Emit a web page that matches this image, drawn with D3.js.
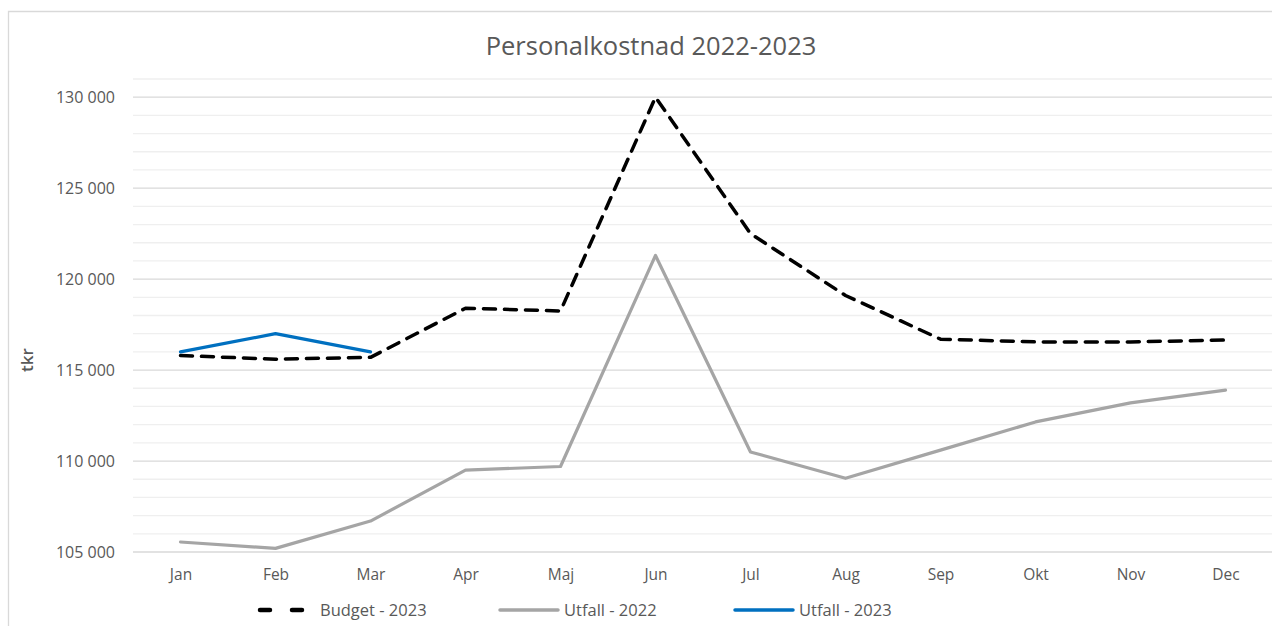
<!DOCTYPE html>
<html lang="sv">
<head>
    <meta charset="utf-8">
    <script src="https://d3js.org/d3.v7.min.js"></script>
    <style>
        body { margin: 0; background: white; }
        text { font-family: "Open Sans", "Noto Sans", sans-serif; fill: #595959; }
        .grid-major line { stroke: #d9d9d9; stroke-width: 1.3; }
        .grid-minor line { stroke: #efefef; stroke-width: 1.3; }
    </style>
</head>
<body>
    <svg id="chart" width="1272" height="626"></svg>
    <script>
        // data
        const months = ["Jan", "Feb", "Mar", "Apr", "Maj", "Jun", "Jul", "Aug", "Sep", "Okt", "Nov", "Dec"];
        const budget2023 = [115800, 115600, 115700, 118400, 118250, 130000, 122500, 119100, 116700, 116550, 116550, 116650];
        const utfall2022 = [105550, 105200, 106700, 109500, 109700, 121300, 110500, 109050, 110600, 112150, 113200, 113900];
        const utfall2023 = [116000, 117000, 116000];
        const yTicks = [105000, 110000, 115000, 120000, 125000, 130000];

        const svg = d3.select("svg#chart");
        const plot = { left: 133, right: 1273, top: 79, bottom: 552 };

        // chart frame (only top and left edges visible)
        svg.append("path")
            .attr("d", "M8.5,626 V11.5 H1272")
            .attr("fill", "none")
            .attr("stroke", "#d9d9d9")
            .attr("stroke-width", 1.3);

        const x = d3.scalePoint()
            .domain(months)
            .range([plot.left, plot.right])
            .padding(0.5);

        const y = d3.scaleLinear()
            .domain([105000, 131000])
            .range([plot.bottom, plot.top]);

        // minor gridlines every 1000
        const minor = d3.range(105000, 131001, 1000).filter(v => v % 5000 != 0);
        svg.append("g").attr("class", "grid-minor")
            .selectAll("line").data(minor).join("line")
            .attr("x1", plot.left).attr("x2", plot.right)
            .attr("y1", d => y(d)).attr("y2", d => y(d));

        svg.append("g").attr("class", "grid-major")
            .selectAll("line").data(yTicks).join("line")
            .attr("x1", plot.left).attr("x2", plot.right)
            .attr("y1", d => y(d)).attr("y2", d => y(d));

        const fmt = v => d3.format(",")(v).replace(/,/g, " ");

        const yAxis = svg.append("g")
            .attr("transform", `translate(${plot.left},0)`)
            .call(d3.axisLeft(y).tickValues(yTicks).tickFormat(fmt).tickSize(0).tickPadding(18));
        yAxis.select(".domain").remove();
        yAxis.selectAll("text").style("font-size", "16px").attr("fill", "#595959");

        const xAxis = svg.append("g")
            .attr("transform", `translate(0,${plot.bottom})`)
            .call(d3.axisBottom(x).tickSize(0).tickPadding(17));
        xAxis.select(".domain").remove();
        xAxis.selectAll("text").style("font-size", "15.5px").attr("fill", "#595959");

        // title
        svg.append("text")
            .attr("x", 651).attr("y", 55)
            .attr("text-anchor", "middle")
            .style("font-size", "25.5px")
            .text("Personalkostnad 2022-2023");

        // y label
        svg.append("text")
            .attr("transform", "translate(33,360) rotate(-90)")
            .attr("text-anchor", "middle")
            .style("font-size", "17px")
            .style("font-weight", "600")
            .text("tkr");

        const line = d3.line()
            .x((d, i) => x(months[i]))
            .y(d => y(d));

        const series = [
            { name: "Budget - 2023", values: budget2023, color: "#000000", width: 3.5, dash: "12,9" },
            { name: "Utfall - 2022", values: utfall2022, color: "#a5a5a5", width: 3.2, dash: null },
            { name: "Utfall - 2023", values: utfall2023, color: "#0070c0", width: 3.2, dash: null }
        ];

        const order = [1, 0, 2];
        order.forEach(k => {
            const s = series[k];
            svg.append("path")
                .datum(s.values)
                .attr("fill", "none")
                .attr("stroke", s.color)
                .attr("stroke-width", s.width)
                .attr("stroke-linejoin", "round")
                .attr("stroke-linecap", "round")
                .attr("stroke-dasharray", s.dash)
                .attr("d", line);
        });

        // legend
        const legendX = [258, 500, 735];
        const legend = svg.append("g");
        series.forEach((s, i) => {
            const g = legend.append("g").attr("transform", `translate(${legendX[i]},610)`);
            g.append("line")
                .attr("x1", s.dash ? 2 : 0).attr("x2", s.dash ? 50 : 58)
                .attr("y1", 0).attr("y2", 0)
                .attr("stroke", s.color)
                .attr("stroke-width", s.dash ? 4.5 : 3.5)
                .attr("stroke-linecap", "round")
                .attr("stroke-dasharray", s.dash ? "10,22" : null);
            g.append("text")
                .attr("x", s.dash ? 62 : 64)
                .attr("y", 6)
                .style("font-size", "16.5px")
                .text(s.name);
        });
    </script>
</body>
</html>
